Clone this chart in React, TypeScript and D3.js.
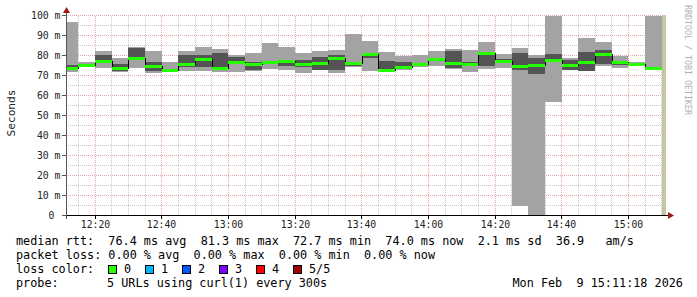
import React from "react";
import * as d3 from "d3";

// slot boundaries (HH:MM:SS), 36 measured slots
const slotBounds = [
  "12:11:18", "12:15:00", "12:20:00", "12:25:00", "12:30:00", "12:35:00", "12:40:00",
  "12:45:00", "12:50:00", "12:55:00", "13:00:00", "13:05:00", "13:10:00", "13:15:00",
  "13:20:00", "13:25:00", "13:30:00", "13:35:00", "13:40:00", "13:45:00", "13:50:00",
  "13:55:00", "14:00:00", "14:05:00", "14:10:00", "14:15:00", "14:20:00", "14:25:00",
  "14:30:00", "14:35:00", "14:40:00", "14:45:00", "14:50:00", "14:55:00", "15:00:00",
  "15:05:00", "15:10:00",
];
const unknownFrom = "15:10:00";
const rangeStart = "12:11:18";
const rangeEnd = "15:11:18";

// 5 sorted pings per slot (ms)
const pingMin = [72.0, 74.3, 73.7, 71.9, 74.0, 71.4, 72.0, 72.5, 72.5, 71.8, 71.8, 72.4, 73.3, 73.0, 71.4, 72.6, 71.2, 74.5, 72.5, 71.7, 72.6, 74.5, 75.0, 73.3, 71.8, 73.4, 74.0, 5.0, 0.0, 56.9, 72.8, 72.3, 75.0, 73.7, 75.2, 73.4];
const pingLow = [72.9, 75.0, 77.0, 72.5, 78.5, 72.2, 72.2, 74.4, 74.5, 73.3, 76.0, 72.9, 76.0, 75.0, 74.4, 73.0, 72.8, 74.8, 78.7, 72.0, 73.2, 75.3, 77.8, 73.7, 74.7, 75.0, 77.0, 73.0, 70.9, 77.5, 72.9, 72.4, 76.0, 75.5, 75.5, 73.6];
const median = [73.8, 75.4, 77.5, 73.7, 79.0, 74.6, 72.8, 75.8, 78.4, 73.8, 76.8, 75.8, 76.6, 77.5, 75.9, 76.5, 78.6, 76.2, 80.6, 72.7, 74.4, 75.8, 78.4, 76.3, 75.8, 81.3, 77.4, 74.8, 75.2, 78.0, 75.5, 77.0, 80.5, 76.7, 75.9, 74.0];
const pingHigh = [75.3, 75.8, 80.5, 75.7, 84.0, 76.8, 73.3, 80.3, 80.3, 81.2, 79.5, 76.7, 77.5, 78.0, 77.8, 79.5, 80.3, 76.8, 81.2, 77.4, 77.0, 76.3, 79.0, 82.5, 76.8, 82.0, 78.5, 81.2, 78.7, 80.8, 77.9, 82.0, 82.8, 77.5, 76.5, 74.5];
const pingMax = [96.8, 76.8, 82.3, 78.9, 84.2, 82.3, 76.8, 82.3, 84.3, 83.3, 80.4, 81.5, 86.5, 84.5, 81.2, 82.1, 82.9, 91.0, 87.3, 81.7, 79.8, 80.3, 82.2, 83.3, 82.8, 86.9, 80.6, 83.8, 80.4, 108.0, 79.0, 89.0, 86.8, 79.9, 77.0, 110.0];

const yTicks = [0, 10, 20, 30, 40, 50, 60, 70, 80, 90, 100];
const xTickLabels = ["12:20", "12:40", "13:00", "13:20", "13:40", "14:00", "14:20", "14:40", "15:00"];

const legendLine1 = "median rtt:  76.4 ms avg  81.3 ms max  72.7 ms min  74.0 ms now  2.1 ms sd  36.9   am/s";
const legendLine2 = "packet loss: 0.00 % avg  0.00 % max  0.00 % min  0.00 % now";
const lossLabels = ["0", "1", "2", "3", "4", "5/5"];
const lossColors = ["#26ff00", "#00b8ff", "#0059ff", "#7e00ff", "#ff0000", "#a00000"];
const probeText = "5 URLs using curl(1) every 300s";
const dateText = "Mon Feb  9 15:11:18 2026";

const W = 697;
const H = 297;
const MONO = "'DejaVu Sans Mono', monospace";

function toDate(s: string): Date {
  const [h, m, sec] = s.split(":").map(Number);
  return new Date(2026, 1, 9, h, m, sec || 0);
}

export default function App() {
  const x = d3.scaleTime().domain([toDate(rangeStart), toDate(rangeEnd)]).range([66, 666]);
  const y = d3.scaleLinear().domain([0, 100]).range([215.5, 15.5]);
  const top = 15.5;
  const bottom = 215.5;
  const clipY = (v: number) => Math.max(top, Math.min(bottom, y(v)));

  const minor = d3.timeMinute.every(5)!.range(toDate(rangeStart), toDate(rangeEnd));
  const vLines = minor.map((t) => ({ px: Math.floor(x(t)) + 0.5, major: t.getMinutes() % 20 === 0 }));
  const hVals = d3.range(5, 101, 5);

  const slots = median.map((m, i) => {
    const x0 = Math.round(x(toDate(slotBounds[i])));
    const x1 = Math.round(x(toDate(slotBounds[i + 1])));
    return { x0, x1, i };
  });

  const medLine = d3
    .line<number>()
    .x((_, i) => Math.round(x(toDate(slotBounds[i]))))
    .y((v) => Math.round(y(v)) + 0.5)
    .curve(d3.curveStepAfter);
  const medPts = [...median, median[median.length - 1]];

  const uX0 = Math.round(x(toDate(unknownFrom)));
  const uX1 = Math.round(x(toDate(rangeEnd)));

  const xLabelTimes = xTickLabels.map((s) => ({ s, px: Math.floor(x(toDate(s + ":00"))) + 0.5 }));

  return (
    <svg width={W} height={H} style={{ position: "absolute", left: 0, top: 0, background: "#fff" }}>
      <rect x={0} y={0} width={W} height={H} fill="#ffffff" />
      {/* grid */}
      <g shapeRendering="crispEdges">
        {hVals.map((v) => (
          <line key={"h" + v} x1={66} x2={666} y1={y(v)} y2={y(v)}
            stroke={v % 10 === 0 ? "#e8a4a4" : "#c8c8c8"} strokeDasharray="1,1" />
        ))}
        {vLines.map((l, i) => (
          <line key={"v" + i} x1={l.px} x2={l.px} y1={top} y2={bottom}
            stroke={l.major ? "#e8a4a4" : "#c8c8c8"} strokeDasharray="1,1" />
        ))}
      </g>
      {/* smoke */}
      <g shapeRendering="crispEdges">
        {slots.map((s) => (
          <rect key={"l" + s.i} x={s.x0} width={s.x1 - s.x0} y={clipY(pingMax[s.i])}
            height={clipY(pingMin[s.i]) - clipY(pingMax[s.i])} fill="#a3a3a3" />
        ))}
        {slots.map((s) => (
          <rect key={"d" + s.i} x={s.x0} width={s.x1 - s.x0} y={clipY(pingHigh[s.i])}
            height={clipY(pingLow[s.i]) - clipY(pingHigh[s.i])} fill="#545454" />
        ))}
        <path d={medLine(medPts) || ""} fill="none" stroke="#000" strokeWidth={1} />
        {slots.map((s) => (
          <rect key={"m" + s.i} x={s.x0} width={s.x1 - s.x0} y={Math.round(y(median[s.i])) - 1}
            height={3} fill="#26ff00" />
        ))}
        <rect x={uX0} width={uX1 - uX0} y={top - 0.5} height={bottom - top} fill="#c6c4a2" />
      </g>
      {/* axes */}
      <g shapeRendering="crispEdges">
        <line x1={62} x2={670} y1={215.5} y2={215.5} stroke="#000" />
        <line x1={66.5} x2={66.5} y1={219} y2={12} stroke="#555" />
        {yTicks.map((v) => (
          <line key={"yt" + v} x1={62} x2={66} y1={y(v)} y2={y(v)} stroke="#555" />
        ))}
        {xLabelTimes.map((l) => (
          <line key={"xt" + l.s} x1={l.px} x2={l.px} y1={215} y2={219} stroke="#000" />
        ))}
      </g>
      <path d="M66.5,7 L63,13 L70,13 Z" fill="#a01818" />
      <path d="M674,215.5 L668,212 L668,219 Z" fill="#a01818" />
      {/* tick labels */}
      <g fontFamily={MONO} fontSize={9.8} fill="#222">
        {yTicks.map((v) => (
          <text key={"yl" + v} x={v === 0 ? 54.5 : 60.5} y={y(v) + 3.6} textAnchor="end">
            {v === 0 ? "0" : `${v} m`}
          </text>
        ))}
        {xLabelTimes.map((l) => (
          <text key={"xl" + l.s} x={l.px} y={227.5} textAnchor="middle">{l.s}</text>
        ))}
      </g>
      <text transform="translate(15,113) rotate(-90)" textAnchor="middle" fontFamily={MONO} fontSize={11.2} fill="#222">
        Seconds
      </text>
      <text transform="translate(685,5) rotate(90)" fontFamily={MONO} fontSize={8.3} fill="#b0b0b0">
        RRDTOOL / TOBI OETIKER
      </text>
      {/* legend */}
      <g fontFamily={MONO} fontSize={11.8} fill="#000" style={{ whiteSpace: "pre" }}>
        <text x={16} y={245} xmlSpace="preserve">{legendLine1}</text>
        <text x={16} y={259} xmlSpace="preserve">{legendLine2}</text>
        <text x={16} y={273}>loss color:</text>
        {lossLabels.map((lab, i) => (
          <g key={"lc" + i}>
            <rect x={108.5 + i * 37} y={265.5} width={8} height={8} fill={lossColors[i]} stroke="#000" strokeWidth={1} shapeRendering="crispEdges" />
            <text x={124 + i * 37} y={273}>{lab}</text>
          </g>
        ))}
        <text x={16} y={287}>probe:</text>
        <text x={107} y={287}>{probeText}</text>
        <text x={512.5} y={287} xmlSpace="preserve">{dateText}</text>
      </g>
    </svg>
  );
}
